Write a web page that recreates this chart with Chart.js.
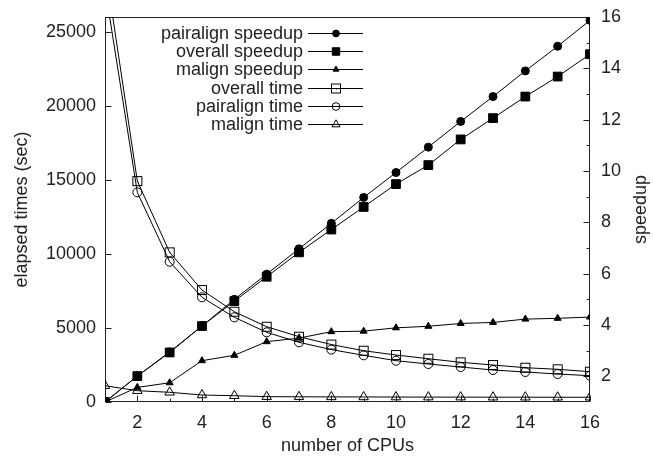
<!DOCTYPE html>
<html>
<head>
<meta charset="utf-8">
<script src="https://cdn.jsdelivr.net/npm/chart.js@4"></script>
<style>
  html, body { margin: 0; padding: 0; background: #fff; overflow: hidden; }
  #wrap { width: 653px; height: 457px; }
</style>
</head>
<body>
<div id="wrap"><canvas id="chart"></canvas></div>
<script>
// number of CPUs
const cpus = [1, 2, 3, 4, 5, 6, 7, 8, 9, 10, 11, 12, 13, 14, 15, 16];

// speedups (right axis)
const pairalignSpeedup = [1, 2.01, 2.95, 3.96, 5.0, 5.98, 6.97, 7.96, 8.97, 9.94, 10.93, 11.93, 12.9, 13.9, 14.86, 15.87];
const overallSpeedup = [1, 2.01, 2.93, 3.96, 4.93, 5.88, 6.83, 7.72, 8.6, 9.49, 10.23, 11.23, 12.06, 12.9, 13.68, 14.55];
const malignSpeedup = [1, 1.57, 1.75, 2.61, 2.82, 3.35, 3.49, 3.74, 3.76, 3.89, 3.95, 4.06, 4.1, 4.23, 4.26, 4.31];

// elapsed times in sec (left axis)
const overallTime = [29500, 14920, 10107, 7561, 6096, 5084, 4409, 3882, 3463, 3173, 2923, 2680, 2498, 2316, 2208, 2046];
const pairalignTime = [28000, 14158, 9472, 7069, 5718, 4706, 4031, 3538, 3153, 2788, 2566, 2363, 2160, 2025, 1890, 1776];
const malignTime = [1100, 763, 655, 473, 425, 360, 350, 345, 340, 335, 330, 330, 325, 325, 320, 320];

// ticks
const timeTicks = [0, 5000, 10000, 15000, 20000, 25000];
const speedupTicks = [2, 4, 6, 8, 10, 12, 14, 16];
const speedupMinor = [3, 5, 7, 9, 11, 13, 15];
const cpuTicks = [2, 4, 6, 8, 10, 12, 14, 16];
const cpuMinor = [3, 5, 7, 9, 11, 13, 15];

const ink = "#222";
const FONT = "'Liberation Sans', Arial, Helvetica, sans-serif";

// gnuplot style open square: box with a dot in the middle
function openSquare(side) {
  const c = document.createElement("canvas");
  c.width = side + 4;
  c.height = side + 4;
  const g = c.getContext("2d");
  g.strokeStyle = "#000";
  g.lineWidth = 1;
  g.strokeRect(2.5, 2.5, side - 1, side - 1);
  g.fillStyle = "#000";
  g.fillRect(Math.floor(c.width / 2), Math.floor(c.height / 2), 1, 1);
  return c;
}

function pts(ys) {
  return cpus.map((c, i) => ({ x: c, y: ys[i] }));
}

function series(label, ys, axis, style, radius, filled) {
  return {
    label: label,
    data: pts(ys),
    yAxisID: axis,
    borderColor: "#000",
    borderWidth: 1,
    pointStyle: style,
    pointRadius: radius,
    pointBorderWidth: 1,
    pointBorderColor: "#000",
    pointBackgroundColor: filled ? "#000" : "rgba(0,0,0,0)",
    fill: false,
    tension: 0,
  };
}

const datasets = [
  series("pairalign speedup", pairalignSpeedup, "y2", "circle", 4, true),
  series("overall speedup", overallSpeedup, "y2", "rect", 6.2, true),
  series("malign speedup", malignSpeedup, "y2", "triangle", 4, true),
  series("overall time", overallTime, "y", openSquare(10), 6, false),
  series("pairalign time", pairalignTime, "y", "circle", 4.5, false),
  series("malign time", malignTime, "y", "triangle", 5.5, false),
];

// box around the plot + inward tick marks (gnuplot style) + right axis title
const frameTicks = {
  id: "frameTicks",
  beforeDatasetsDraw(chart) {
    const { ctx, chartArea: a, scales } = chart;
    ctx.save();
    ctx.strokeStyle = ink;
    ctx.lineWidth = 1;
    const L = Math.round(a.left) + 0.5, R = Math.round(a.right) - 0.5;
    const T = Math.round(a.top) + 0.5, B = Math.round(a.bottom) - 0.5;
    ctx.strokeRect(L, T, R - L, B - T);
    ctx.beginPath();
    const xt = (vals, len) => vals.forEach(v => {
      const px = Math.round(scales.x.getPixelForValue(v)) + 0.5;
      ctx.moveTo(px, B); ctx.lineTo(px, B - len);
    });
    xt(cpuTicks, 6); xt(cpuMinor, 3);
    timeTicks.forEach(v => {
      const py = Math.round(scales.y.getPixelForValue(v)) + 0.5;
      ctx.moveTo(L, py); ctx.lineTo(L + 6, py);
    });
    const rt = (vals, len) => vals.forEach(v => {
      const py = Math.round(scales.y2.getPixelForValue(v)) + 0.5;
      ctx.moveTo(R, py); ctx.lineTo(R - len, py);
    });
    rt(speedupTicks, 6); rt(speedupMinor, 3);
    ctx.stroke();

    // y2 label, rotated the same way as the left one
    ctx.translate(641, (a.top + a.bottom) / 2);
    ctx.rotate(-Math.PI / 2);
    ctx.font = "18px " + FONT;
    ctx.fillStyle = ink;
    ctx.textAlign = "center";
    ctx.textBaseline = "middle";
    ctx.fillText("speedup", 0, 0);
    ctx.restore();
  }
};

// key in the top part of the plot: right aligned text, then line sample with marker
const keyPlugin = {
  id: "keyPlugin",
  afterDraw(chart) {
    const ctx = chart.ctx;
    ctx.save();
    ctx.font = "18px " + FONT;
    ctx.textAlign = "right";
    ctx.textBaseline = "middle";
    chart.data.datasets.forEach((ds, i) => {
      const y = Math.round(32.5 + i * 18.35) + 0.5;
      ctx.fillStyle = ink;
      ctx.fillText(ds.label, 303, y + 1);
      ctx.strokeStyle = "#000";
      ctx.lineWidth = 1;
      ctx.beginPath();
      ctx.moveTo(308, y);
      ctx.lineTo(363, y);
      ctx.stroke();
      ctx.fillStyle = ds.pointBackgroundColor;
      Chart.helpers.drawPoint(ctx, {
        pointStyle: ds.pointStyle,
        radius: ds.pointRadius * 0.85,
        rotation: 0,
        borderWidth: 1,
      }, 336, y);
    });
    ctx.restore();
  }
};

const tickFont = { family: FONT, size: 18 };
const plain = v => String(v);
const noGrid = { display: false, drawTicks: false, tickLength: 0 };

new Chart(document.getElementById("chart").getContext("2d"), {
  type: "line",
  data: { datasets: datasets },
  plugins: [frameTicks, keyPlugin],
  options: {
    responsive: true,
    maintainAspectRatio: false,
    animation: false,
    layout: { padding: { top: 17, left: 0, right: 0, bottom: 0 } },
    plugins: {
      legend: { display: false },
      tooltip: { enabled: false },
    },
    scales: {
      x: {
        type: "linear",
        min: 1,
        max: 16,
        afterBuildTicks: s => { s.ticks = cpuTicks.map(v => ({ value: v })); },
        afterFit: s => { s.height = 55; s.paddingLeft = 0; s.paddingRight = 0; },
        grid: noGrid,
        border: { display: false },
        ticks: { color: ink, font: tickFont, padding: 10, maxRotation: 0, callback: plain },
        title: {
          display: true,
          text: "number of CPUs",
          color: ink,
          font: tickFont,
          padding: { top: 0, bottom: 0 },
        },
      },
      y: {
        position: "left",
        min: 0,
        max: 26000,
        afterBuildTicks: s => { s.ticks = timeTicks.map(v => ({ value: v })); },
        afterFit: s => { s.width = 105; s.paddingTop = 0; s.paddingBottom = 0; },
        grid: noGrid,
        border: { display: false },
        ticks: { color: ink, font: tickFont, padding: 9, callback: plain },
        title: {
          display: true,
          text: "elapsed times (sec)",
          color: ink,
          font: tickFont,
          padding: { top: 11, bottom: 0 },
        },
      },
      y2: {
        position: "right",
        min: 1,
        max: 16,
        afterBuildTicks: s => { s.ticks = speedupTicks.map(v => ({ value: v })); },
        afterFit: s => { s.width = 63; s.paddingTop = 0; s.paddingBottom = 0; },
        grid: noGrid,
        border: { display: false },
        ticks: { color: ink, font: tickFont, padding: 11, callback: plain },
        title: { display: false },
      },
    },
  },
});
</script>
</body>
</html>
